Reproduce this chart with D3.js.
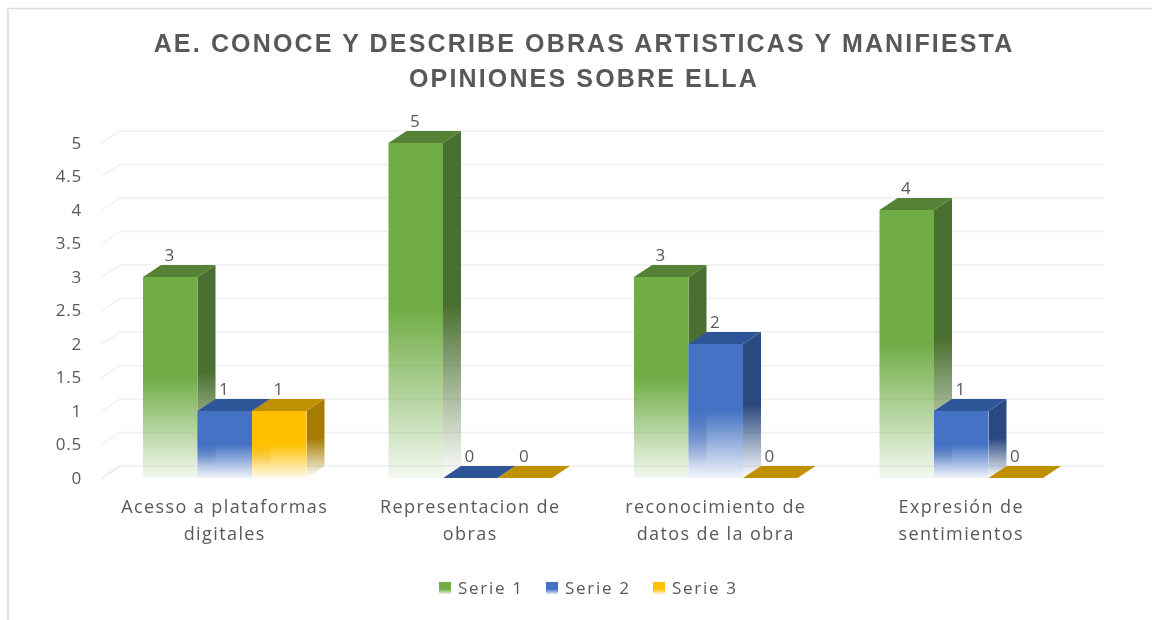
<!DOCTYPE html>
<html><head><meta charset="utf-8">
<script src="https://cdn.jsdelivr.net/npm/d3@7"></script>
<style>html,body{margin:0;background:#fff}svg{display:block}text{font-family:"Open Sans",sans-serif;fill:#595959}</style>
</head><body><svg id="c" width="1152" height="620"></svg>
<script>
const titleLines=["AE. CONOCE Y DESCRIBE OBRAS ARTISTICAS Y MANIFIESTA","OPINIONES SOBRE ELLA"];
const categories=[["Acesso a plataformas","digitales"],["Representacion de","obras"],["reconocimiento de","datos de la obra"],["Expresión de","sentimientos"]];
const seriesNames=["Serie 1","Serie 2","Serie 3"];
const serie1=[3,5,3,4];
const serie2=[1,0,2,1];
const serie3=[1,0,0,0];
const seriesValues=[serie1,serie2,serie3];
const seriesColors=["#70ad47","#4472c4","#ffc000"];
const topColors=["#548235","#2f5597","#bf9000"];
const sideColors=["#4a7030","#2c4a80","#a67c00"];
const yTicks=[0,0.5,1,1.5,2,2.5,3,3.5,4,4.5,5];

const svg=d3.select("#c");
const defs=svg.append("defs");
defs.append("filter").attr("id","soft").attr("filterUnits","userSpaceOnUse")
  .attr("x",0).attr("y",0).attr("width",1152).attr("height",620)
  .append("feGaussianBlur").attr("stdDeviation",0.55);
const root=svg.append("g").attr("filter","url(#soft)");
root.append("rect").attr("width",1152).attr("height",620).attr("fill","#fff");

const depthX=18,depthY=12;
const x0=d3.scaleBand().domain(d3.range(categories.length)).range([102,1084]);
const x1=d3.scaleBand().domain(d3.range(seriesNames.length)).range([41,204.5]);
const y=d3.scaleLinear().domain([0,5]).range([478,143]);

root.append("path").attr("d","M8,620V8.5H1152").attr("fill","none").attr("stroke","#dcdcdc").attr("stroke-width",1.6);

const grid=root.append("g").attr("fill","none").attr("stroke","#f0f0f0").attr("stroke-width",1.5);
yTicks.forEach(t=>{
  grid.append("path").attr("d",`M102,${y(t)}L${102+depthX},${y(t)-depthY}H1105`);
});
root.append("path").attr("d",`M120,${y(0)-depthY}L102,${y(0)}`).attr("stroke","#e4e4e4").attr("fill","none");

const yAxis=d3.axisLeft(y).tickValues(yTicks).tickSize(0).tickPadding(0).tickFormat(d=>String(d));
const ya=root.append("g").attr("transform","translate(82,0)").call(yAxis);
ya.select(".domain").remove();
ya.selectAll("text").attr("font-size",17).attr("letter-spacing",0.8).attr("text-anchor","end").style("fill","#595959");

function grad(id,color,fade,end){
  const g=defs.append("linearGradient").attr("id",id).attr("x1",0).attr("y1",0).attr("x2",0).attr("y2",1);
  g.append("stop").attr("offset",fade).attr("stop-color",color);
  g.append("stop").attr("offset",1).attr("stop-color",color).attr("stop-opacity",end);
}

const bars=root.append("g");
const labels=root.append("g");
categories.forEach((c,ci)=>{
  seriesValues.forEach((vals,si)=>{
    const v=vals[ci];
    const l=x0(ci)+x1(si), w=x1.bandwidth(), top=y(v), bot=y(0), r=l+w;
    const g=bars.append("g");
    if(v>0){
      const h=bot-top;
      grad(`f${ci}${si}`,seriesColors[si],0.5,0.08);
      grad(`s${ci}${si}`,sideColors[si],0.5,0);
      g.append("path").attr("d",`M${r},${top}L${r+depthX},${top-depthY}V${bot-depthY}L${r},${bot}Z`).attr("fill",`url(#s${ci}${si})`);
      if(si>0){
        // the bar's far face shows through its fading front
        g.append("rect").attr("x",l).attr("y",top).attr("width",w).attr("height",h).attr("fill","#fff");
        g.append("rect").attr("x",l).attr("y",top).attr("width",depthX).attr("height",h-depthY).attr("fill",`url(#s${ci}${si})`).attr("opacity",0.6);
      }
      g.append("rect").attr("x",l).attr("y",top).attr("width",w).attr("height",h).attr("fill",`url(#f${ci}${si})`);
    }
    g.append("path").attr("d",`M${l},${top}L${l+depthX},${top-depthY}H${r+depthX}L${r},${top}Z`).attr("fill",topColors[si]);
    labels.append("text").attr("x",l+w/2-1).attr("y",top-16).attr("text-anchor","middle").attr("font-size",17).text(v);
  });
  const t=root.append("text").attr("text-anchor","middle").attr("font-size",18).attr("letter-spacing",1.4);
  c.forEach((line,i)=>t.append("tspan").attr("x",x0(ci)+x0.bandwidth()/2).attr("y",513+i*27).text(line));
});

const tt=root.append("text").attr("text-anchor","middle").attr("font-size",25).attr("font-weight",700).attr("letter-spacing",2.15).style("font-family","'Liberation Sans',sans-serif");
titleLines.forEach((line,i)=>tt.append("tspan").attr("x",584).attr("y",52+i*35).text(line));

const lg=root.append("g");
const legX=[439,546,653];
seriesNames.forEach((n,i)=>{
  grad(`l${i}`,seriesColors[i],0.6,0.15);
  lg.append("rect").attr("x",legX[i]).attr("y",582).attr("width",12).attr("height",12).attr("fill",`url(#l${i})`);
  lg.append("text").attr("x",legX[i]+19).attr("y",594).attr("font-size",17).attr("letter-spacing",1.7).text(n);
});
</script></body></html>
